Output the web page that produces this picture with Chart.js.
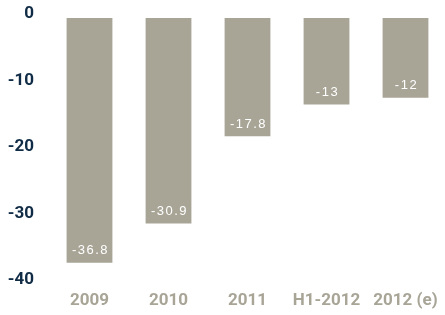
<!DOCTYPE html>
<html lang="en">
<head>
  <meta charset="UTF-8">
  <title>Bar chart</title>
  <script src="https://cdn.jsdelivr.net/npm/chart.js"></script>
  <style>
    html, body { margin: 0; padding: 0; background: #ffffff; }
    #chartContainer { width: 445px; height: 315px; }
  </style>
</head>
<body>
  <div id="chartContainer">
    <canvas id="barChart"></canvas>
  </div>

  <script>
    // Chart data
    const categories = ['2009', '2010', '2011', 'H1-2012', '2012 (e)'];
    const values = [-36.8, -30.9, -17.8, -13, -12];
    const yTicks = [0, -10, -20, -30, -40];

    const barColor = '#a8a597';
    const axisColor = '#0f2b45';
    const tickFont = "Roboto, 'Liberation Sans', sans-serif";

    // white value labels drawn near the end of each bar
    const valueLabels = {
      id: 'valueLabels',
      afterDatasetsDraw(chart) {
        const ctx = chart.ctx;
        const meta = chart.getDatasetMeta(0);
        ctx.save();
        ctx.fillStyle = '#ffffff';
        ctx.font = "13px 'Liberation Sans', Arial, sans-serif";
        ctx.letterSpacing = '1.5px';
        ctx.textAlign = 'center';
        ctx.textBaseline = 'middle';
        meta.data.forEach(function(bar, i) {
          ctx.fillText(String(values[i]), bar.x + 1, bar.y - 12);
        });
        ctx.restore();
      }
    };

    const ctx = document.getElementById('barChart').getContext('2d');
    new Chart(ctx, {
      type: 'bar',
      data: {
        labels: categories,
        datasets: [{
          data: values,
          backgroundColor: barColor,
          hoverBackgroundColor: barColor,
          barPercentage: 0.58,
          categoryPercentage: 1
        }]
      },
      options: {
        responsive: true,
        maintainAspectRatio: false,
        animation: false,
        events: [],
        layout: { padding: { top: 18, right: 0, bottom: 0, left: 0 } },
        plugins: {
          legend: { display: false },
          tooltip: { enabled: false }
        },
        scales: {
          x: {
            grid: { display: false, drawTicks: false },
            border: { display: false },
            afterFit: function(scale) { scale.height = 31; },
            ticks: {
              color: barColor,
              font: { family: tickFont, size: 17, weight: 'bold' },
              padding: 7,
              maxRotation: 0,
              autoSkip: false
            }
          },
          y: {
            min: -40,
            max: 0,
            grid: { display: false, drawTicks: false },
            border: { display: false },
            afterFit: function(scale) { scale.width = 50; },
            afterBuildTicks: function(scale) {
              scale.ticks = yTicks.map(function(v) { return { value: v }; });
            },
            ticks: {
              color: axisColor,
              font: { family: tickFont, size: 17, weight: 'bold', lineHeight: 0.01 },
              padding: 16,
              labelOffset: -4
            }
          }
        }
      },
      plugins: [valueLabels]
    });
  </script>
</body>
</html>
